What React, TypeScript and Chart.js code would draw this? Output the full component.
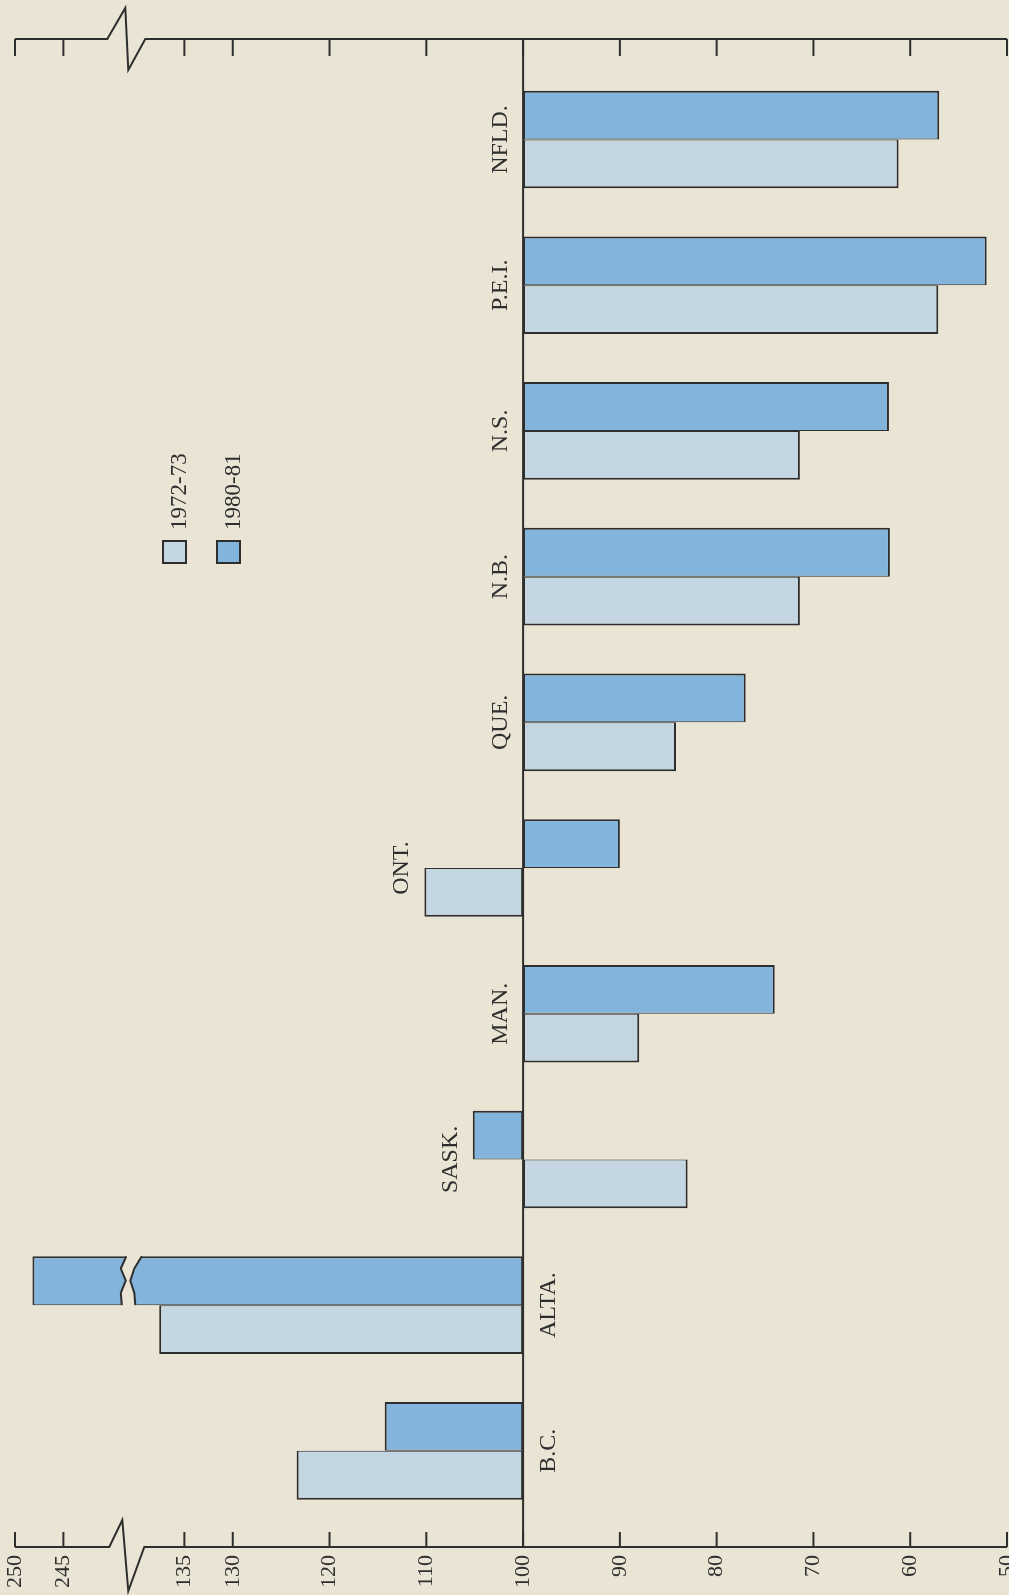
import React, { useEffect, useRef } from 'react';
import { Chart, registerables } from 'chart.js';

Chart.register(...registerables);

// ---------- data ----------
const categories = ['B.C.', 'ALTA.', 'SASK.', 'MAN.', 'ONT.', 'QUE.', 'N.B.', 'N.S.', 'P.E.I.', 'NFLD.'];
const series1972 = [123.4, 137.6, 83.0, 88.0, 110.2, 84.2, 71.4, 71.4, 57.1, 61.2];
const series1980 = [114.3, 248.2, 105.2, 74.0, 90.0, 77.0, 62.1, 62.2, 52.1, 57.0];
const seriesLabels = ['1972-73', '1980-81'];
const tickValues = [250, 245, 135, 130, 120, 110, 100, 90, 80, 70, 60, 50];
const baseValue = 100;
// scale break: values at or above breakFrom are shifted down by breakShift
const breakFrom = 200;
const breakShift = 97.5;
const breakMark = 141; // axis-space location of the break symbol

const toAxis = (v: number) => (v >= breakFrom ? v - breakShift : v);

// ---------- style ----------
const BG = '#EAE4D5';
const INK = '#2E2E2E';
const LIGHT = '#C4D6E2';
const DARK = '#82B4DC';
const SERIF = '"Liberation Serif", "DejaVu Serif", serif';

function seg(ctx: CanvasRenderingContext2D, x1: number, y1: number, x2: number, y2: number) {
  ctx.beginPath();
  ctx.moveTo(x1, y1);
  ctx.lineTo(x2, y2);
  ctx.stroke();
}

function drawBarBreak(ctx: CanvasRenderingContext2D, c: number, top: number, bottom: number) {
  const fr = [0, 0.25, 0.5, 0.75, 1];
  const leftOff = [-4, -9.5, -4.5, -9.5, -8.5];
  const rightOff = [11.5, 4, 0, 4, 5];
  const h = bottom - top;
  const L = fr.map((f, k) => [c + leftOff[k], top + f * h]);
  const R = fr.map((f, k) => [c + rightOff[k], top + f * h]);
  ctx.save();
  ctx.fillStyle = BG;
  ctx.beginPath();
  ctx.moveTo(L[0][0], L[0][1] - 2);
  L.forEach(([x, y]) => ctx.lineTo(x, y));
  ctx.lineTo(L[4][0], L[4][1] + 2);
  ctx.lineTo(R[4][0], R[4][1] + 2);
  [...R].reverse().forEach(([x, y]) => ctx.lineTo(x, y));
  ctx.lineTo(R[0][0], R[0][1] - 2);
  ctx.closePath();
  ctx.fill();
  ctx.strokeStyle = INK;
  ctx.lineWidth = 2;
  ctx.lineJoin = 'round';
  for (const P of [L, R]) {
    ctx.beginPath();
    P.forEach(([x, y], k) => (k === 0 ? ctx.moveTo(x, y) : ctx.lineTo(x, y)));
    ctx.stroke();
  }
  ctx.restore();
}

const decor = {
  id: 'decor',
  beforeDraw(chart: any) {
    const ctx = chart.ctx as CanvasRenderingContext2D;
    ctx.save();
    ctx.fillStyle = BG;
    ctx.fillRect(0, 0, chart.width, chart.height);
    ctx.restore();
  },
  afterDatasetsDraw(chart: any) {
    const ctx = chart.ctx as CanvasRenderingContext2D;
    const { chartArea, scales } = chart;
    const xs = scales.x;
    const ys = scales.y;
    const top = chartArea.top;
    const bottom = chartArea.bottom;
    const basePx = xs.getPixelForValue(toAxis(baseValue));
    const bc = xs.getPixelForValue(breakMark);

    // break in the over-long bar(s)
    const meta = chart.getDatasetMeta(0);
    series1980.forEach((v, i) => {
      if (v >= breakFrom) {
        const bar = meta.data[i];
        const p = bar.getProps(['y', 'height'], true);
        drawBarBreak(ctx, bc + 4, p.y - p.height / 2, p.y + p.height / 2);
      }
    });

    ctx.save();
    ctx.strokeStyle = INK;
    ctx.lineWidth = 2;
    ctx.lineCap = 'butt';
    ctx.lineJoin = 'miter';

    // baseline at 100
    seg(ctx, basePx, top, basePx, bottom);

    const leftPx = xs.getPixelForValue(toAxis(tickValues[0]));
    const rightPx = xs.getPixelForValue(toAxis(tickValues[tickValues.length - 1]));

    // top axis with break
    ctx.beginPath();
    ctx.moveTo(leftPx, top);
    ctx.lineTo(bc - 19, top);
    ctx.lineTo(bc - 1, top - 31);
    ctx.lineTo(bc + 2, top + 31);
    ctx.lineTo(bc + 19, top);
    ctx.lineTo(rightPx, top);
    ctx.stroke();

    // bottom axis with break
    ctx.beginPath();
    ctx.moveTo(leftPx, bottom);
    ctx.lineTo(bc - 17, bottom);
    ctx.lineTo(bc - 4, bottom - 27);
    ctx.lineTo(bc + 2, bottom + 44);
    ctx.lineTo(bc + 18, bottom);
    ctx.lineTo(rightPx, bottom);
    ctx.stroke();

    // inward ticks
    for (const t of tickValues) {
      const px = xs.getPixelForValue(toAxis(t));
      seg(ctx, px, top, px, top + 17);
      seg(ctx, px, bottom, px, bottom - 15);
    }
    ctx.restore();

    // category labels
    ctx.save();
    ctx.fillStyle = INK;
    ctx.font = `24px ${SERIF}`;
    categories.forEach((name, i) => {
      const yc = ys.getPixelForValue(i);
      const a = series1972[i];
      const b = series1980[i];
      let xAnchor: number;
      if (a > baseValue && b > baseValue) {
        const capH = ctx.measureText(name).actualBoundingBoxAscent;
        xAnchor = basePx + 17 + capH;
      } else {
        const maxV = Math.max(a, b, baseValue);
        xAnchor = xs.getPixelForValue(toAxis(maxV)) - 16;
      }
      ctx.save();
      ctx.translate(xAnchor, yc);
      ctx.rotate(-Math.PI / 2);
      ctx.textAlign = 'center';
      ctx.textBaseline = 'alphabetic';
      ctx.fillText(name, 0, 0);
      ctx.restore();
    });
    ctx.restore();

    // legend
    const legend = [
      { label: seriesLabels[0], color: LIGHT, x: 163 },
      { label: seriesLabels[1], color: DARK, x: 217 },
    ];
    ctx.save();
    ctx.font = `23px ${SERIF}`;
    for (const it of legend) {
      ctx.fillStyle = it.color;
      ctx.fillRect(it.x, 541, 23, 22);
      ctx.strokeStyle = INK;
      ctx.lineWidth = 2;
      ctx.strokeRect(it.x, 541, 23, 22);
      ctx.save();
      ctx.fillStyle = INK;
      ctx.translate(it.x + 23, 530);
      ctx.rotate(-Math.PI / 2);
      ctx.textAlign = 'left';
      ctx.textBaseline = 'alphabetic';
      ctx.fillText(it.label, 0, 0);
      ctx.restore();
    }
    ctx.restore();
  },
};

export default function App() {
  const ref = useRef<HTMLCanvasElement>(null);
  useEffect(() => {
    document.body.style.margin = '0';
    document.body.style.background = BG;
    document.body.style.overflow = 'hidden';
    const canvas = ref.current!;
    const chart = new Chart(canvas, {
      type: 'bar',
      data: {
        datasets: [
          {
            label: seriesLabels[1],
            data: series1980.map((v, i) => ({ y: i, x: [toAxis(baseValue), toAxis(v)] })) as any,
            backgroundColor: DARK,
            borderColor: INK,
            borderWidth: { top: 2, right: 2, bottom: 1, left: 2 } as any,
            borderSkipped: false,
            categoryPercentage: 0.67,
            barPercentage: 1,
          },
          {
            label: seriesLabels[0],
            data: series1972.map((v, i) => ({ y: i, x: [toAxis(baseValue), toAxis(v)] })) as any,
            backgroundColor: LIGHT,
            borderColor: INK,
            borderWidth: { top: 1, right: 2, bottom: 2, left: 2 } as any,
            borderSkipped: false,
            categoryPercentage: 0.67,
            barPercentage: 1,
          },
        ],
      },
      options: {
        indexAxis: 'y',
        responsive: false,
        animation: false,
        events: [],
        layout: { padding: { top: 39, left: 15, right: 2, bottom: 0 } },
        plugins: { legend: { display: false }, tooltip: { enabled: false } },
        scales: {
          x: {
            type: 'linear',
            reverse: true,
            min: toAxis(tickValues[tickValues.length - 1]),
            max: toAxis(tickValues[0]),
            grid: { display: false, drawTicks: false },
            border: { display: false },
            afterBuildTicks: (s: any) => {
              s.ticks = tickValues.map((v) => ({ value: toAxis(v) }));
            },
            afterFit: (s: any) => {
              s.height = 48;
              s.paddingLeft = 0;
              s.paddingRight = 0;
            },
            ticks: {
              autoSkip: false,
              minRotation: 90,
              maxRotation: 90,
              padding: 8,
              color: INK,
              font: { family: SERIF, size: 22 },
              callback: (val: any) => {
                const t = tickValues.find((tv) => Math.abs(toAxis(tv) - Number(val)) < 1e-6);
                return t === undefined ? '' : String(t);
              },
            },
          },
          y: {
            type: 'linear',
            min: -0.66,
            max: 9.69,
            offset: false,
            bounds: 'data',
            grid: { offset: false },
            afterBuildTicks: (s: any) => {
              s.ticks = categories.map((_, i) => ({ value: i }));
            },
            afterDataLimits: (s: any) => {
              s.min = -0.66;
              s.max = 9.69;
            },
            display: false,
          },
        },
      },
      plugins: [decor],
    } as any);
    return () => chart.destroy();
  }, []);
  return (
    <div style={{ width: 1009, height: 1595, background: BG }}>
      <canvas ref={ref} width={1009} height={1595} style={{ display: 'block' }} />
    </div>
  );
}
